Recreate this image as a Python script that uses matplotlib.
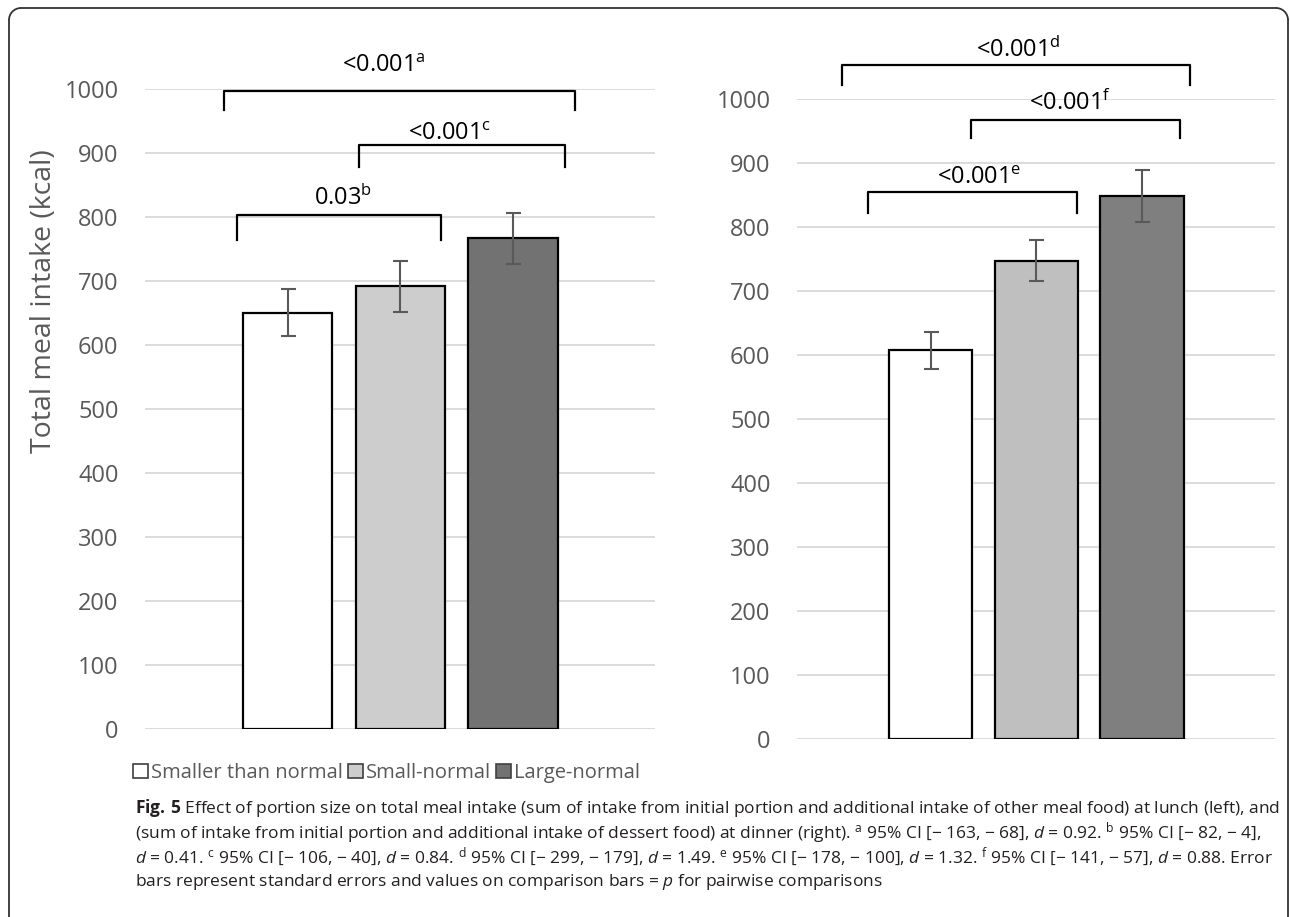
import matplotlib
matplotlib.use("Agg")
import matplotlib.pyplot as plt
from matplotlib.patches import Patch, Arc
import numpy as np

plt.rcParams['font.family'] = ['Open Sans', 'DejaVu Sans']
plt.rcParams['mathtext.fontset'] = 'custom'
plt.rcParams['mathtext.rm'] = 'Open Sans'
plt.rcParams['mathtext.it'] = 'Open Sans:italic'
plt.rcParams['mathtext.bf'] = 'Open Sans:bold'

# ---------------- data ----------------
conditions = ["Smaller than normal", "Small-normal", "Large-normal"]
lunch_mean = [651, 692, 767]
lunch_se = [37, 40, 40]
dinner_mean = [608, 748, 849]
dinner_se = [29, 32, 40]
yticks = [0, 100, 200, 300, 400, 500, 600, 700, 800, 900, 1000]

lunch_p = [r"<0.001$^{\mathrm{a}}$", r"0.03$^{\mathrm{b}}$", r"<0.001$^{\mathrm{c}}$"]
dinner_p = [r"<0.001$^{\mathrm{d}}$", r"<0.001$^{\mathrm{e}}$", r"<0.001$^{\mathrm{f}}$"]

caption_lines = [
    r"$\mathbf{Fig.\,5}$ Effect of portion size on total meal intake (sum of intake from initial portion and additional intake of other meal food) at lunch (left), and",
    r"(sum of intake from initial portion and additional intake of dessert food) at dinner (right). $^{\mathrm{a}}$ 95% CI [− 163, − 68], $\mathit{d}$ = 0.92. $^{\mathrm{b}}$ 95% CI [− 82, − 4],",
    r"$\mathit{d}$ = 0.41. $^{\mathrm{c}}$ 95% CI [− 106, − 40], $\mathit{d}$ = 0.84. $^{\mathrm{d}}$ 95% CI [− 299, − 179], $\mathit{d}$ = 1.49. $^{\mathrm{e}}$ 95% CI [− 178, − 100], $\mathit{d}$ = 1.32. $^{\mathrm{f}}$ 95% CI [− 141, − 57], $\mathit{d}$ = 0.88. Error",
    r"bars represent standard errors and values on comparison bars = $\mathit{p}$ for pairwise comparisons",
]

# ---------------- layout / style ----------------
W, H = 1290, 917
lunch_colors = ["#ffffff", "#cdcdcd", "#727272"]
dinner_colors = ["#ffffff", "#bfbfbf", "#7f7f7f"]
# bracket geometry: (x_start, x_end, y_level, drop, label_x, label_y)
lunch_brackets = [(-0.56, 2.55, 998, 30, 0.85, 1027),
                  (-0.45, 1.36, 803, 38, 0.49, 819),
                  (0.63, 2.46, 913, 35, 1.44, 921)]
dinner_brackets = [(-0.84, 2.46, 1054, 32, 0.83, 1066),
                   (-0.59, 1.385, 855, 33, 0.46, 868),
                   (0.385, 2.36, 968, 28, 1.32, 983)]

fig = plt.figure(figsize=(W / 100, H / 100), dpi=100)

# frame (pixel coordinates, y downward)
fax = fig.add_axes([0, 0, 1, 1], zorder=-5)
fax.set_xlim(0, W)
fax.set_ylim(H, 0)
fax.axis("off")
r = 12
fcol = "#333333"
fax.plot([9 + r, 1288 - r], [8, 8], color=fcol, lw=1.3)
fax.plot([9, 9], [8 + r, H + 5], color=fcol, lw=1.3)
fax.plot([1288, 1288], [8 + r, H + 5], color=fcol, lw=1.3)
fax.add_patch(Arc((9 + r, 8 + r), 2 * r, 2 * r, theta1=180, theta2=270, color=fcol, lw=1.3))
fax.add_patch(Arc((1288 - r, 8 + r), 2 * r, 2 * r, theta1=270, theta2=360, color=fcol, lw=1.3))


def px_axes(x0, x1, ybot, ytop):
    return [x0 / W, 1 - ybot / H, (x1 - x0) / W, (ybot - ytop) / H]


def draw_panel(ax, means, ses, colors, brackets, labels):
    x = np.arange(len(means))
    ax.bar(x, means, width=0.79, color=colors, edgecolor="black", linewidth=1.6, zorder=3)
    ax.errorbar(x, means, yerr=ses, fmt="none", ecolor="#595959", elinewidth=1.5,
                capsize=5.4, capthick=1.5, zorder=4)
    ax.set_xlim(-1.265, 3.26)
    ax.set_ylim(0, 1000)
    ax.set_yticks(yticks)
    ax.set_xticks([])
    ax.tick_params(axis="y", length=0, pad=19, labelsize=17, labelcolor="#595959")
    for s in ax.spines.values():
        s.set_visible(False)
    ax.grid(axis="y", color="#d9d9d9", lw=1.3, zorder=0)
    ax.set_axisbelow(True)
    for (xa, xb, yl, dr, lx, ly), lab in zip(brackets, labels):
        ax.plot([xa, xa, xb, xb], [yl - dr, yl, yl, yl - dr], color="black", lw=1.6,
                clip_on=False, zorder=5, solid_joinstyle="round")
        ax.text(lx, ly, lab, ha="center", va="baseline", fontsize=17, color="black",
                clip_on=False)


ax1 = fig.add_axes(px_axes(145, 655, 729.3, 89.3))
draw_panel(ax1, lunch_mean, lunch_se, lunch_colors, lunch_brackets, lunch_p)
ax2 = fig.add_axes(px_axes(797, 1275, 739.3, 99.3))
draw_panel(ax2, dinner_mean, dinner_se, dinner_colors, dinner_brackets, dinner_p)

fig.text(44 / W, 1 - 301 / H, "Total meal intake (kcal)", rotation=90, ha="center",
         va="center", fontsize=20.5, color="#595959")

handles = [Patch(facecolor=c, edgecolor="#404040", linewidth=1.2) for c in lunch_colors]
fig.legend(handles, conditions, loc="center left", bbox_to_anchor=(133 / W, 1 - 773 / H),
           ncol=3, frameon=False, fontsize=14.5, labelcolor="#595959",
           handlelength=0.75, handleheight=0.75, handletextpad=0.15, columnspacing=0.25,
           borderpad=0, borderaxespad=0)

# caption
cap_y = [808, 833, 857, 882]
fs = 11.2
texts = []
for line, yy in zip(caption_lines, cap_y):
    texts.append(fig.text(135 / W, 1 - yy / H, line, ha="left", va="center",
                          fontsize=fs, color="#231f20"))
fig.canvas.draw()
rend = fig.canvas.get_renderer()
w1 = texts[0].get_window_extent(rend).width
scale = (1276 - 135) / w1
for t in texts:
    t.set_fontsize(fs * scale)

fig.savefig("out.png", dpi=100)
